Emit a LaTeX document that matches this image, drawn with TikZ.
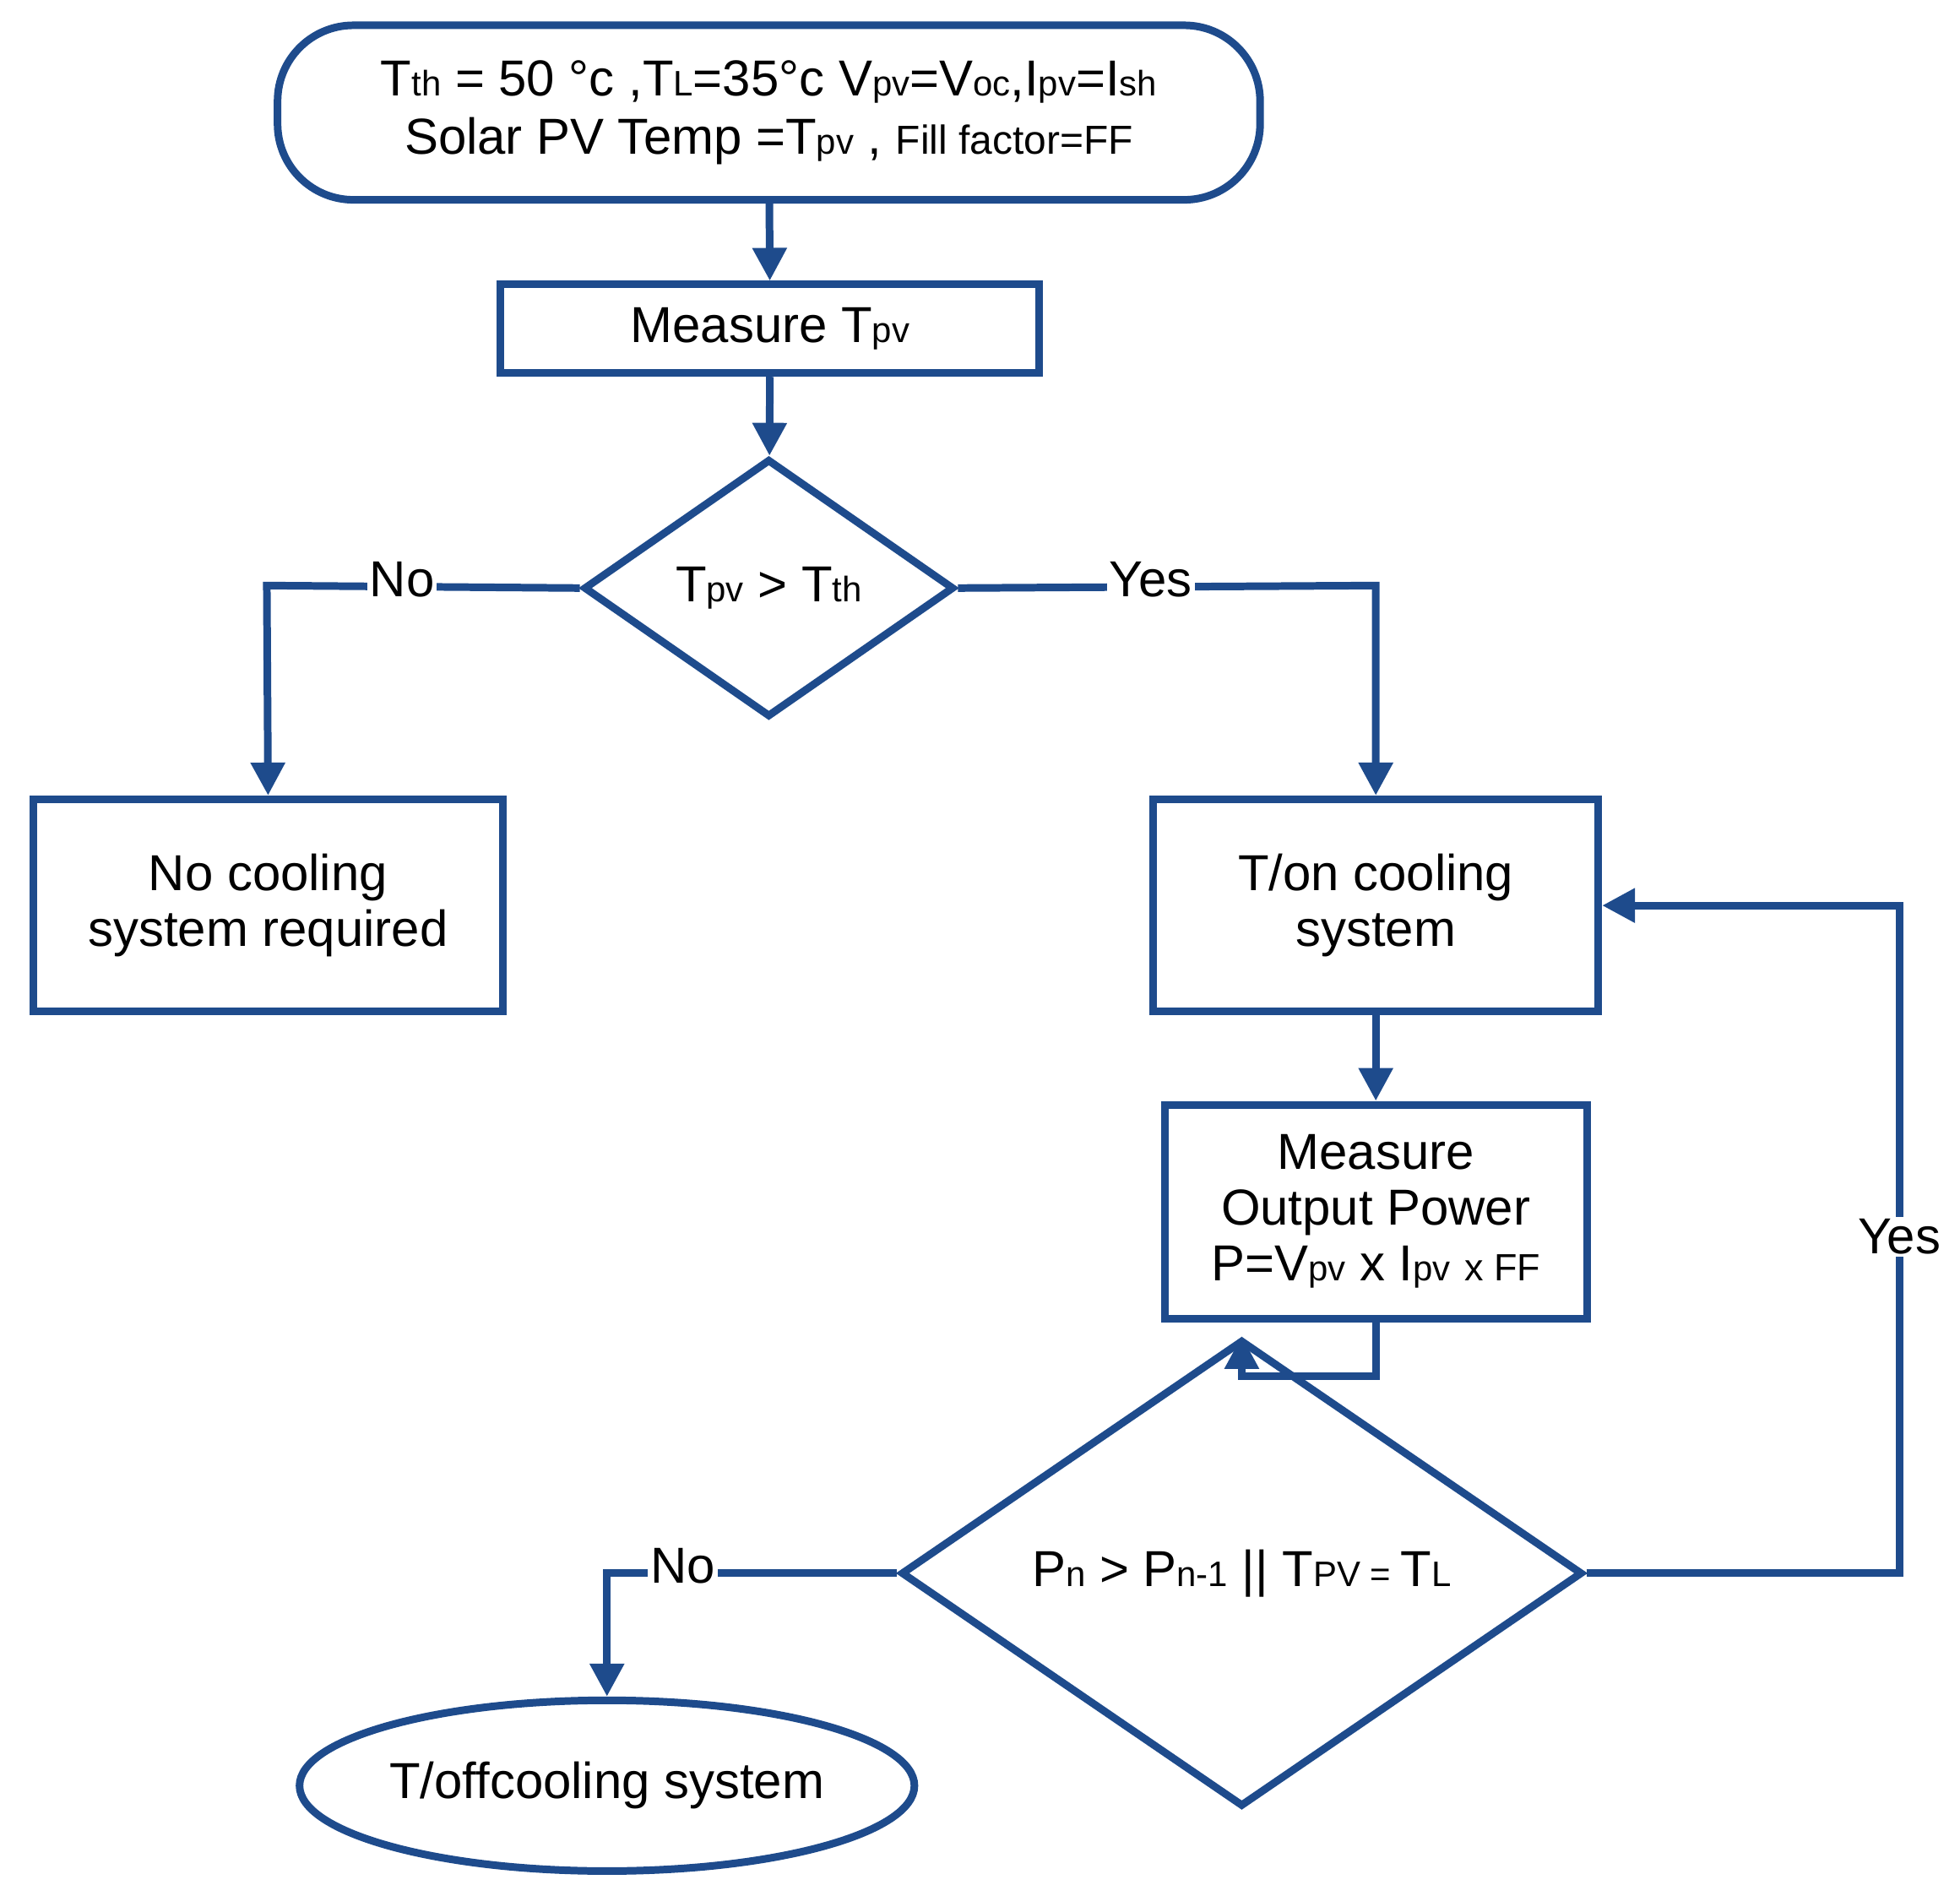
\documentclass[tikz,border=0pt]{standalone}
\usepackage{fontspec}
\setmainfont{Liberation Sans}
\usetikzlibrary{shapes.geometric,arrows.meta}
\definecolor{fb}{RGB}{30,75,140}
\newcommand{\lsub}[1]{{\fontsize{28}{30}\selectfont #1}}
\begin{document}
\begin{tikzpicture}[x=1pt,y=-1pt,
  every node/.style={font=\fontsize{40}{50}\selectfont, align=center, text=black},
  box/.style={draw=fb, line width=6pt, rectangle, inner sep=0pt},
  dia/.style={draw=fb, line width=6pt, diamond, inner sep=0pt},
  term/.style={draw=fb, line width=6pt, rounded corners=60pt, inner sep=0pt},
  stad/.style={draw=fb, line width=6pt, ellipse, inner sep=0pt},
  ar/.style={draw=fb, line width=6pt, -{Triangle[length=26pt,width=26pt]}},
  ln/.style={draw=fb, line width=6pt},
  lab/.style={fill=white, inner sep=2pt}]
\useasboundingbox (0,0) rectangle (1550,1499);
\node[term, minimum width=777pt, minimum height=138pt] (start) at (608,89)
  {T\lsub{th} = 50 °c ,T\lsub{L}=35°c V\lsub{pv}=V\lsub{oc},I\lsub{pv}=I\lsub{sh}\\[-4pt]
   Solar PV Temp =T\lsub{pv} , {\fontsize{32}{36}\selectfont Fill factor=FF}};
\node[box, minimum width=426pt, minimum height=70pt] (meas) at (609,260) {Measure T\lsub{pv}};
\node[dia, minimum width=293pt, minimum height=204pt] (d1) at (608,465) {T\lsub{pv} > T\lsub{th}};
\node[box, minimum width=371pt, minimum height=168pt] (noc) at (212,716) {No cooling\\[-6pt]system required};
\node[box, minimum width=352pt, minimum height=168pt] (ton) at (1088,716) {T/on cooling\\[-6pt]system};
\node[box, minimum width=334pt, minimum height=169pt] (mop) at (1088,958) {Measure\\[-6pt]Output Power\\[-6pt]P=V\lsub{pv} x I\lsub{pv} {\fontsize{30}{30}\selectfont x FF}};
\node[dia, minimum width=539pt, minimum height=202pt] (d2) at (982,1244) {P\lsub{n} > P\lsub{n-1} || T\lsub{PV = }T\lsub{L}};
\node[stad, minimum width=464pt, minimum height=135pt] (off) at (480,1412) {T/offcooling system};
\coordinate (c1) at (211,463);
\coordinate (c2) at (1088,463);
\coordinate (c3) at (1088,1088);
\coordinate (c4) at (982,1088);
\coordinate (c5) at (480,1244);
\coordinate (c6) at (1502,1244);
\coordinate (c7) at (1502,716);
\draw[ar] (start) -- (meas);
\draw[ar] (meas) -- (d1);
\draw[ar] (d1.west) -- (c1) -- (noc.north);
\draw[ar] (d1.east) -- (c2) -- (ton.north);
\draw[ar] (ton) -- (mop);
\draw[ar] (mop.south) -- (c3) -- (c4) -- (d2.north);
\draw[ar] (d2.west) -- (c5) -- (off.north);
\draw[ar] (d2.east) -- (c6) -- (c7) -- (ton.east);
\node[lab] at (318,458) {No};
\node[lab] at (910,458) {Yes};
\node[lab] at (540,1238) {No};
\node[lab] at (1502,978) {Yes};
\end{tikzpicture}
\end{document}
